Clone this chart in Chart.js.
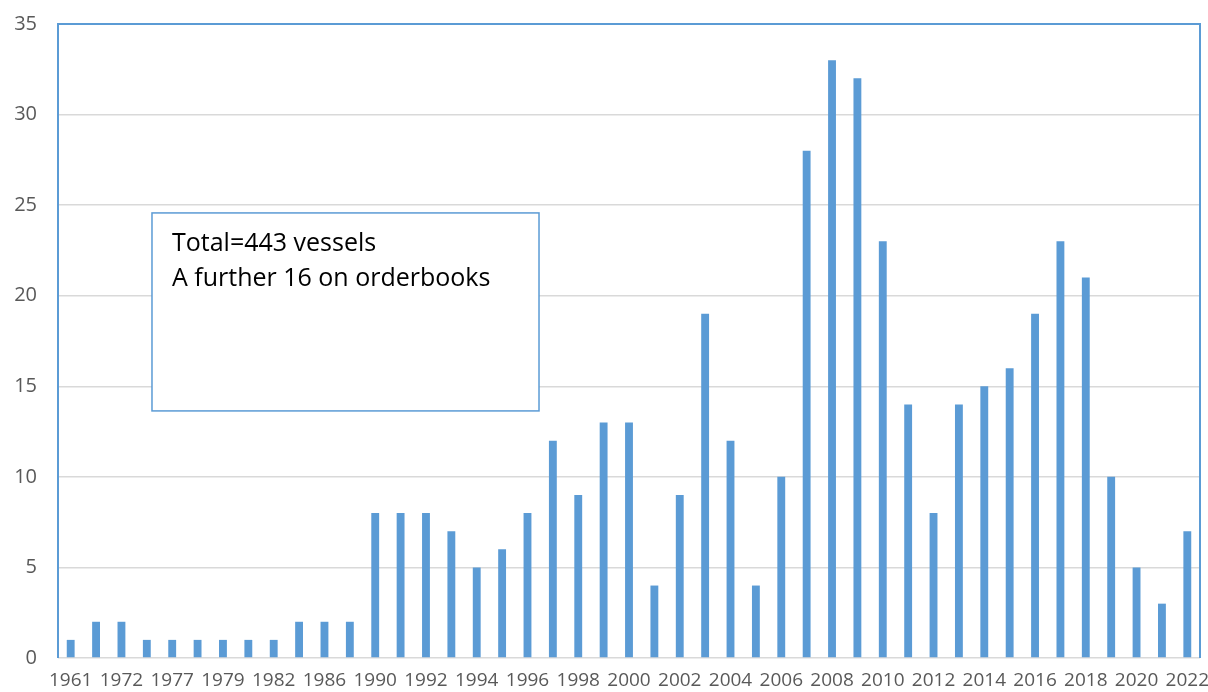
<!DOCTYPE html>
<html>
<head>
<meta charset="utf-8">
<script src="https://cdn.jsdelivr.net/npm/chart.js@4/dist/chart.umd.min.js"></script>
<style>
html,body{margin:0;padding:0;background:#fff;}
#wrap{width:1208px;height:692px;position:relative;}
</style>
</head>
<body>
<div id="wrap"><canvas id="c" width="1208" height="692"></canvas></div>
<script>
const years = ["1961","1970","1972","1974","1977","1978","1979","1980","1982","1984","1986","1988",
  "1990","1991","1992","1993","1994","1995","1996","1997","1998","1999","2000","2001","2002","2003",
  "2004","2005","2006","2007","2008","2009","2010","2011","2012","2013","2014","2015","2016","2017",
  "2018","2019","2020","2021","2022"];
const vessels = [1,2,2,1,1,1,1,1,1,2,2,2,8,8,8,7,5,6,8,12,9,13,13,4,9,19,12,4,10,28,33,32,23,14,8,14,15,16,19,23,21,10,5,3,7];
const yTicks = [0,5,10,15,20,25,30,35];
const noteLines = ["Total=443 vessels","A further 16 on orderbooks"];

const blue = '#5b9bd5';
const FONT = "'Open Sans', 'Liberation Sans', sans-serif";

const framePlugin = {
  id:'frame',
  afterDatasetsDraw(chart){
    const {ctx, chartArea:a, scales:{y}} = chart;
    ctx.save();
    ctx.strokeStyle = blue;
    ctx.lineWidth = 2;
    ctx.beginPath();
    ctx.moveTo(a.left, a.bottom);
    ctx.lineTo(a.left, a.top);
    ctx.lineTo(a.right, a.top);
    ctx.lineTo(a.right, a.bottom);
    ctx.stroke();
    // annotation box
    const x0 = a.left + (a.right-a.left)*0.0823;
    const x1 = a.left + (a.right-a.left)*0.4212;
    const yTop = y.getPixelForValue(24.57);
    const yBot = y.getPixelForValue(13.64);
    ctx.fillStyle = '#fff';
    ctx.fillRect(x0, yTop, x1-x0, yBot-yTop);
    ctx.lineWidth = 1.5;
    ctx.strokeStyle = blue;
    ctx.strokeRect(x0, yTop, x1-x0, yBot-yTop);
    ctx.fillStyle = '#000';
    ctx.font = "25px " + FONT;
    ctx.textBaseline = 'middle';
    ctx.textAlign = 'left';
    noteLines.forEach((t,i)=>ctx.fillText(t, x0+20, yTop+31+i*35));
    ctx.restore();
  }
};

new Chart(document.getElementById('c'), {
  type:'bar',
  data:{labels:years, datasets:[{data:vessels, backgroundColor:blue, borderWidth:0, barPercentage:0.62, categoryPercentage:0.5}]},
  options:{
    responsive:false, animation:false,
    layout:{padding:{top:24,right:8,left:0,bottom:0}},
    plugins:{legend:{display:false}, tooltip:{enabled:false}},
    scales:{
      x:{
        grid:{display:false, drawTicks:false},
        border:{display:false},
        ticks:{autoSkip:false, maxRotation:0, color:'#595959', font:{family:FONT,size:19}, padding:11,
          callback:(v,i)=> i%2===0 ? years[i] : ''},
        afterFit(s){ s.height = 34; s.paddingLeft = 0; s.paddingRight = 0; }
      },
      y:{
        min:0, max:35,
        afterBuildTicks(s){ s.ticks = yTicks.map(v=>({value:v})); },
        grid:{color:'#d9d9d9', lineWidth:1.5, drawTicks:false},
        border:{display:false},
        ticks:{color:'#595959', font:{family:FONT,size:20}, padding:21},
        afterFit(s){ s.width = 58; s.paddingTop = 0; s.paddingBottom = 0; }
      }
    }
  },
  plugins:[framePlugin]
});
</script>
</body>
</html>
